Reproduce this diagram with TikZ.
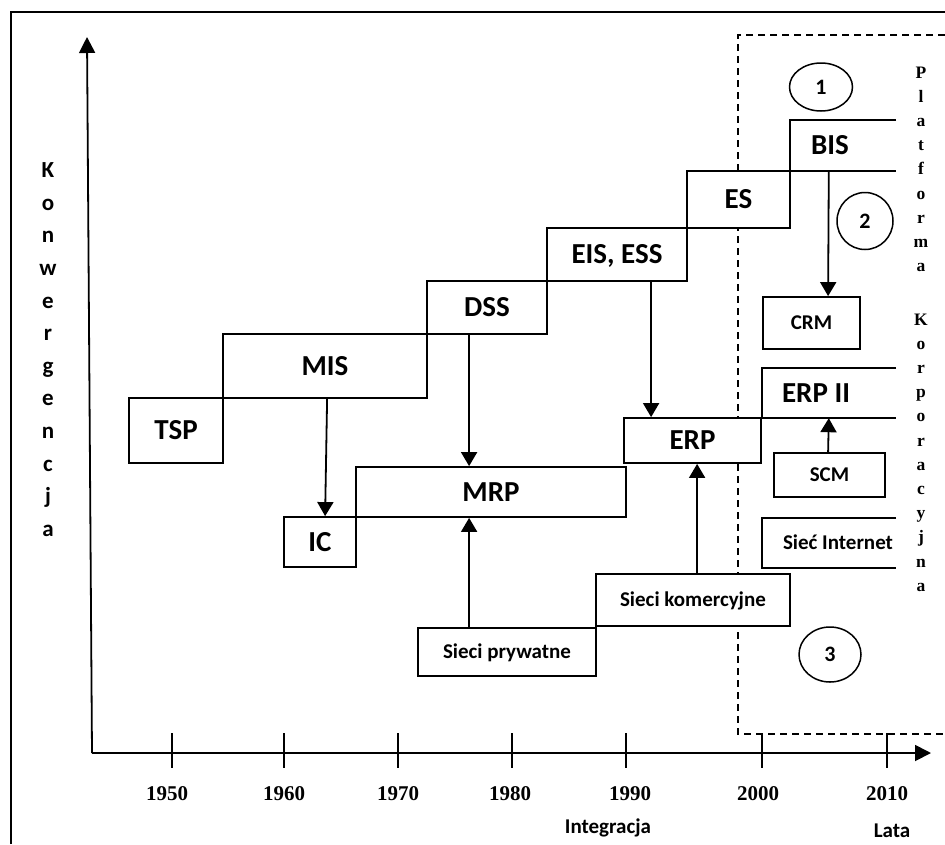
\documentclass[tikz,border=0pt]{standalone}
\usepackage{fontspec}
\setmainfont{Carlito}
\newfontfamily\serifbold{Liberation Serif}
\usetikzlibrary{arrows.meta,shapes.geometric,calc}

\tikzset{
  boxline/.style={line width=1.8pt},
  box/.style={draw, fill=white, boxline, rectangle, inner sep=0pt},
  openbox/.style={rectangle, fill=white, inner sep=0pt},
  sz/.style 2 args={minimum width=#1pt, minimum height=#2pt},
  biglbl/.style={font=\bfseries\fontsize{29}{30}\selectfont, text height=18.3pt, text depth=0pt},
  smalllbl/.style={font=\bfseries\fontsize{21}{24}\selectfont, text height=13.3pt, text depth=0pt},
  arr/.style={boxline, -{Triangle[length=14pt,width=16pt]}},
  axisline/.style={line width=1.8pt},
  axisarr/.style={line width=1.8pt, -{Triangle[length=16pt,width=16pt]}},
  numcirc/.style={ellipse, draw, fill=white, line width=1.5pt, inner sep=0pt,
    font=\bfseries\fontsize{22}{24}\selectfont},
  yearlbl/.style={font=\serifbold\bfseries\fontsize{21}{22}\selectfont, anchor=base, inner sep=0pt},
  axislbl/.style={font=\bfseries\fontsize{21}{24}\selectfont, anchor=base, inner sep=0pt},
  vertsans/.style={font=\bfseries\fontsize{23}{32.6}\selectfont, align=center, anchor=north, inner sep=0pt},
  vertserif/.style={font=\serifbold\bfseries\fontsize{17.5}{24.2}\selectfont, align=center, anchor=north, inner sep=0pt},
  zone/.style={line width=1.5pt, dash pattern=on 7pt off 5pt},
}

\begin{document}
\begin{tikzpicture}[x=1pt,y=-1pt]
\useasboundingbox (0,0) rectangle (945,844);

% outer frame (left and top edges)
\draw[line width=2.6pt] (11,844) -- (11,12) -- (945,12);

% dashed zone of the corporate platform
\draw[zone] (945,35) -- (738,35) -- (738,734) -- (945,734);

% axes
\coordinate (origin) at (92,753);
\coordinate (ytop) at (87,37);
\coordinate (xend) at (931,753);
\draw[axisarr] (origin) -- (ytop);
\draw[axisarr] (origin) -- (xend);

% ticks and years
\foreach \tx in {172,284,398,512,626,762,887}
  \draw[axisline] (\tx,733) -- (\tx,768);
\foreach \lx/\yr in {167/1950,284/1960,398/1970,510/1980,630/1990,758/2000,887/2010}
  \node[yearlbl] (y\yr) at (\lx,800) {\yr};

\node[axislbl] (integr) at (608,833) {Integracja};
\node[axislbl] (lata) at (892,837) {Lata};

% vertical axis title
\node[vertsans] (konw) at (48,162.5) {K\\o\\n\\w\\e\\r\\g\\e\\n\\c\\j\\a};

% side titles
\node[vertserif] (platf) at (921,66.5) {P\\l\\a\\t\\f\\o\\r\\m\\a};
\node[vertserif] (korp) at (921,313.5) {K\\o\\r\\p\\o\\r\\a\\c\\y\\j\\n\\a};

% staircase of systems
\node[box, biglbl, sz={94}{65}]  (tsp) at (176,430.5) {TSP};
\node[box, biglbl, sz={204}{64}] (mis) at (325,366) {MIS};
\node[box, biglbl, sz={120}{53}] (dss) at (487,307.5) {DSS};
\node[box, biglbl, sz={140}{53}] (eis) at (617,254.5) {EIS, ESS};
\node[box, biglbl, sz={103}{57}] (es)  at (738.5,199.5) {ES};
\node[openbox, biglbl, sz={106}{51}] (bis) at (843,145.5) {BIS\hspace*{26pt}};
\draw[boxline] (bis.north east) -| (bis.south west) -- (bis.south east);

% lower staircase
\node[box, biglbl, sz={72}{50}]  (ic)  at (320,542) {IC};
\node[box, biglbl, sz={270}{50}] (mrp) at (491,492) {MRP};
\node[box, biglbl, sz={137}{45}] (erp) at (692.5,440.5) {ERP};
\node[openbox, biglbl, sz={134}{50}] (erpii) at (829,393) {ERP II\hspace*{26pt}};
\draw[boxline] (erpii.north east) -| (erpii.south west) -- (erpii.south east);

% smaller modules
\node[box, smalllbl, sz={97}{52}]  (crm) at (811.5,323) {CRM};
\node[box, smalllbl, sz={111}{44}] (scm) at (829.5,475) {SCM};
\node[openbox, smalllbl, sz={134}{50}] (net) at (829,543) {\hspace*{18pt}Sieć Internet};
\draw[boxline] (net.north east) -| (net.south west) -- (net.south east);

% networks
\node[box, smalllbl, sz={178}{48}] (prv) at (507,652) {Sieci prywatne};
\node[box, smalllbl, sz={194}{52}] (kom) at (693,600) {Sieci komercyjne};

% numbered circles
\node[numcirc, minimum width=63pt, minimum height=48pt] (c1) at (821,87) {1};
\node[numcirc, minimum width=56pt, minimum height=57pt] (c2) at (865,221) {2};
\node[numcirc, minimum width=62pt, minimum height=55pt] (c3) at (830,654.5) {3};

% connectors
\draw[arr] ($(mis.south west)+(105,0)$) -- ($(ic.north west)+(42,0)$);
\draw[arr] ($(dss.south west)+(43,0)$) -- ($(mrp.north west)+(114,0)$);
\draw[arr] ($(eis.south west)+(105,0)$) -- ($(erp.north west)+(28,0)$);
\draw[arr] ($(bis.south west)+(39,0)$) -- ($(crm.north west)+(66,0)$);
\draw[arr] ($(prv.north west)+(52,0)$) -- ($(mrp.south west)+(114,0)$);
\draw[arr] ($(kom.north west)+(102,0)$) -- ($(erp.south west)+(74,0)$);
\draw[arr] ($(scm.north west)+(55,0)$) -- ($(erpii.south west)+(67,0)$);
\end{tikzpicture}
\end{document}
